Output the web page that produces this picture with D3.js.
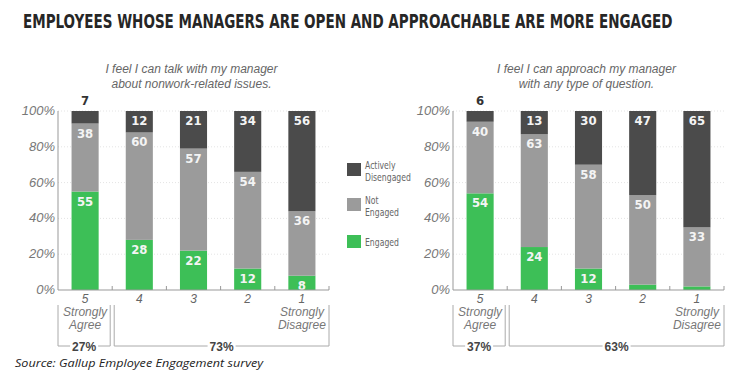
<!DOCTYPE html>
<html>
<head>
<meta charset="utf-8">
<script src="https://cdn.jsdelivr.net/npm/d3@7"></script>
<style>
  body { margin: 0; background: #fff; }
  svg { display: block; }
</style>
</head>
<body>
<svg id="chart" width="753" height="388"></svg>
<script>
// ratings, left to right
var ratings = ["5", "4", "3", "2", "1"];

// chart 1: talk with manager about nonwork-related issues
var talkEngaged = [55, 28, 22, 12, 8];
var talkNotEngaged = [38, 60, 57, 54, 36];
var talkDisengaged = [7, 12, 21, 34, 56];

// chart 2: approach manager with any type of question
var askEngaged = [54, 24, 12, 3, 2];
var askNotEngaged = [40, 63, 58, 50, 33];
var askDisengaged = [6, 13, 30, 47, 65];

var yTicks = [0, 20, 40, 60, 80, 100];
var legendLabels = [["Actively", "Disengaged"], ["Not", "Engaged"], ["Engaged"]];
var groupShares1 = ["27%", "73%"];
var groupShares2 = ["37%", "63%"];

var colors = { eng: "#3dbf57", not: "#9b9b9b", dis: "#4b4b4b" };
var condensed = "'DejaVu Sans Condensed', 'Liberation Sans Narrow', sans-serif";
var plain = "'Liberation Sans', Arial, sans-serif";

var svg = d3.select("#chart");

// squeeze a text horizontally to a given width (keeps the glyph height)
function squeeze(sel, x, width) {
  var w = sel.node().getComputedTextLength();
  var sx = Math.min(1, width / w);
  sel.attr("x", 0).attr("transform", "translate(" + x + ",0) scale(" + sx + ",1)");
}

var title = svg.append("text")
   .attr("y", 28)
   .style("font-family", condensed).style("font-weight", "bold")
   .style("font-size", "20px").style("fill", "#262626")
   .text("EMPLOYEES WHOSE MANAGERS ARE OPEN AND APPROACHABLE ARE MORE ENGAGED");
squeeze(title, 23, 650);

var y = d3.scaleLinear().domain([0, 100]).range([290, 111]);

function drawChart(opts) {
  var g = svg.append("g");
  var x = d3.scaleBand().domain(ratings)
            .range([opts.x0, opts.x1]).paddingInner(0.5).paddingOuter(0.25);
  var step = x.step();

  // subtitle
  opts.subtitle.forEach(function(line, i) {
    g.append("text")
     .attr("x", (opts.x0 + opts.x1) / 2 - 2).attr("y", 73 + i * 15)
     .attr("text-anchor", "middle")
     .style("font-family", plain).style("font-style", "italic")
     .style("font-size", "12px").style("fill", "#666")
     .text(line);
  });

  // gridlines
  g.selectAll(".grid").data(yTicks.slice(1)).enter().append("line")
   .attr("x1", opts.x0).attr("x2", opts.x1)
   .attr("y1", function(d) { return y(d); }).attr("y2", function(d) { return y(d); })
   .attr("stroke", "#e4e4e4").attr("stroke-dasharray", "1,2");

  // y tick labels
  g.selectAll(".ylab").data(yTicks).enter().append("text")
   .attr("x", opts.x0 - 3).attr("y", function(d) { return y(d) + 4; })
   .attr("text-anchor", "end")
   .style("font-family", plain).style("font-style", "italic")
   .style("font-size", "13px").style("fill", "#777")
   .text(function(d) { return d + "%"; });

  // stacked bars
  var rows = ratings.map(function(r, i) {
    return { rating: r, eng: opts.eng[i], not: opts.not[i], dis: opts.dis[i] };
  });
  var stack = d3.stack().keys(["eng", "not", "dis"])(rows);

  stack.forEach(function(layer) {
    var key = layer.key;
    g.selectAll(".bar-" + key).data(layer).enter().append("rect")
     .attr("x", function(d) { return x(d.data.rating); })
     .attr("width", x.bandwidth())
     .attr("y", function(d) { return y(d[1]); })
     .attr("height", function(d) { return y(d[0]) - y(d[1]); })
     .attr("fill", colors[key]);

    g.selectAll(".lab-" + key).data(layer.filter(function(d) { return d.data[key] >= 8; }))
     .enter().append("text")
     .attr("x", function(d) { return x(d.data.rating) + x.bandwidth() / 2; })
     .attr("y", function(d) { return y(d[1]) + 14; })
     .attr("text-anchor", "middle")
     .style("font-family", condensed).style("font-weight", "bold")
     .style("font-size", "13px").style("fill", "#f4f4f4")
     .text(function(d) { return d.data[key]; });

    // small values sit above the bar
    g.selectAll(".top-" + key).data(layer.filter(function(d) { return d.data[key] < 8 && key == "dis"; }))
     .enter().append("text")
     .attr("x", function(d) { return x(d.data.rating) + x.bandwidth() / 2; })
     .attr("y", function(d) { return y(d[1]) - 6; })
     .attr("text-anchor", "middle")
     .style("font-family", condensed).style("font-weight", "bold")
     .style("font-size", "13px").style("fill", "#333")
     .text(function(d) { return d.data[key]; });
  });

  // axes
  g.append("line").attr("x1", opts.x0).attr("x2", opts.x0)
   .attr("y1", y(100)).attr("y2", y(0)).attr("stroke", "#999");
  g.append("line").attr("x1", opts.x0).attr("x2", opts.x1)
   .attr("y1", y(0)).attr("y2", y(0)).attr("stroke", "#999").attr("stroke-width", 1.2);
  g.selectAll(".xtick").data(ratings.slice(1).concat(["end"])).enter().append("line")
   .attr("x1", function(d) { return d == "end" ? opts.x1 : x(d) - step * 0.25; })
   .attr("x2", function(d) { return d == "end" ? opts.x1 : x(d) - step * 0.25; })
   .attr("y1", y(0)).attr("y2", y(0) - 4).attr("stroke", "#999");

  // rating labels
  g.selectAll(".xlab").data(ratings).enter().append("text")
   .attr("x", function(d) { return x(d) + x.bandwidth() / 2; })
   .attr("y", 303)
   .attr("text-anchor", "middle")
   .style("font-family", plain).style("font-style", "italic")
   .style("font-size", "12px").style("fill", "#666")
   .text(function(d) { return d; });

  [[ratings[0], ["Strongly", "Agree"]], [ratings[4], ["Strongly", "Disagree"]]].forEach(function(p) {
    p[1].forEach(function(line, i) {
      g.append("text")
       .attr("x", x(p[0]) + x.bandwidth() / 2).attr("y", 316 + i * 13)
       .attr("text-anchor", "middle")
       .style("font-family", plain).style("font-style", "italic")
       .style("font-size", "12px").style("fill", "#777")
       .text(line);
    });
  });

  // brackets
  var split = x(ratings[1]) - step * 0.25;
  var groups = [[opts.x0, split - 2, opts.shares[0]], [split + 2, opts.x1, opts.shares[1]]];
  groups.forEach(function(gr) {
    var mid = (gr[0] + gr[1]) / 2;
    var half = 14;
    g.append("path")
     .attr("d", "M" + gr[0] + ",305V346H" + (mid - half) + "M" + (mid + half) + ",346H" + gr[1] + "V305")
     .attr("fill", "none").attr("stroke", "#aaa");
    g.append("text")
     .attr("x", mid).attr("y", 351)
     .attr("text-anchor", "middle")
     .style("font-family", plain).style("font-weight", "bold")
     .style("font-size", "12px").style("fill", "#444")
     .text(gr[2]);
  });
}

drawChart({ x0: 58, x1: 329, eng: talkEngaged, not: talkNotEngaged, dis: talkDisengaged,
            subtitle: ["I feel I can talk with my manager", "about nonwork-related issues."],
            shares: groupShares1 });
drawChart({ x0: 453, x1: 724, eng: askEngaged, not: askNotEngaged, dis: askDisengaged,
            subtitle: ["I feel I can approach my manager", "with any type of question."],
            shares: groupShares2 });

// legend
var legendColors = [colors.dis, colors.not, colors.eng];
var legendY = [163, 198, 235];
var lg = svg.append("g");
legendLabels.forEach(function(lines, i) {
  lg.append("rect").attr("x", 347).attr("y", legendY[i])
    .attr("width", 14).attr("height", 13).attr("fill", legendColors[i]);
  lines.forEach(function(line, j) {
    var t = lg.append("text")
      .attr("y", legendY[i] + (lines.length == 1 ? 11 : 6 + j * 12))
      .style("font-family", condensed).style("font-size", "11px").style("fill", "#666")
      .text(line);
    squeeze(t, 365, t.node().getComputedTextLength() * 0.78);
  });
});

svg.append("text")
   .attr("x", 15).attr("y", 367)
   .attr("textLength", 248).attr("lengthAdjust", "spacingAndGlyphs")
   .style("font-family", "'Open Sans', sans-serif").style("font-style", "italic")
   .style("font-size", "11px").style("fill", "#222")
   .text("Source: Gallup Employee Engagement survey");
</script>
</body>
</html>
